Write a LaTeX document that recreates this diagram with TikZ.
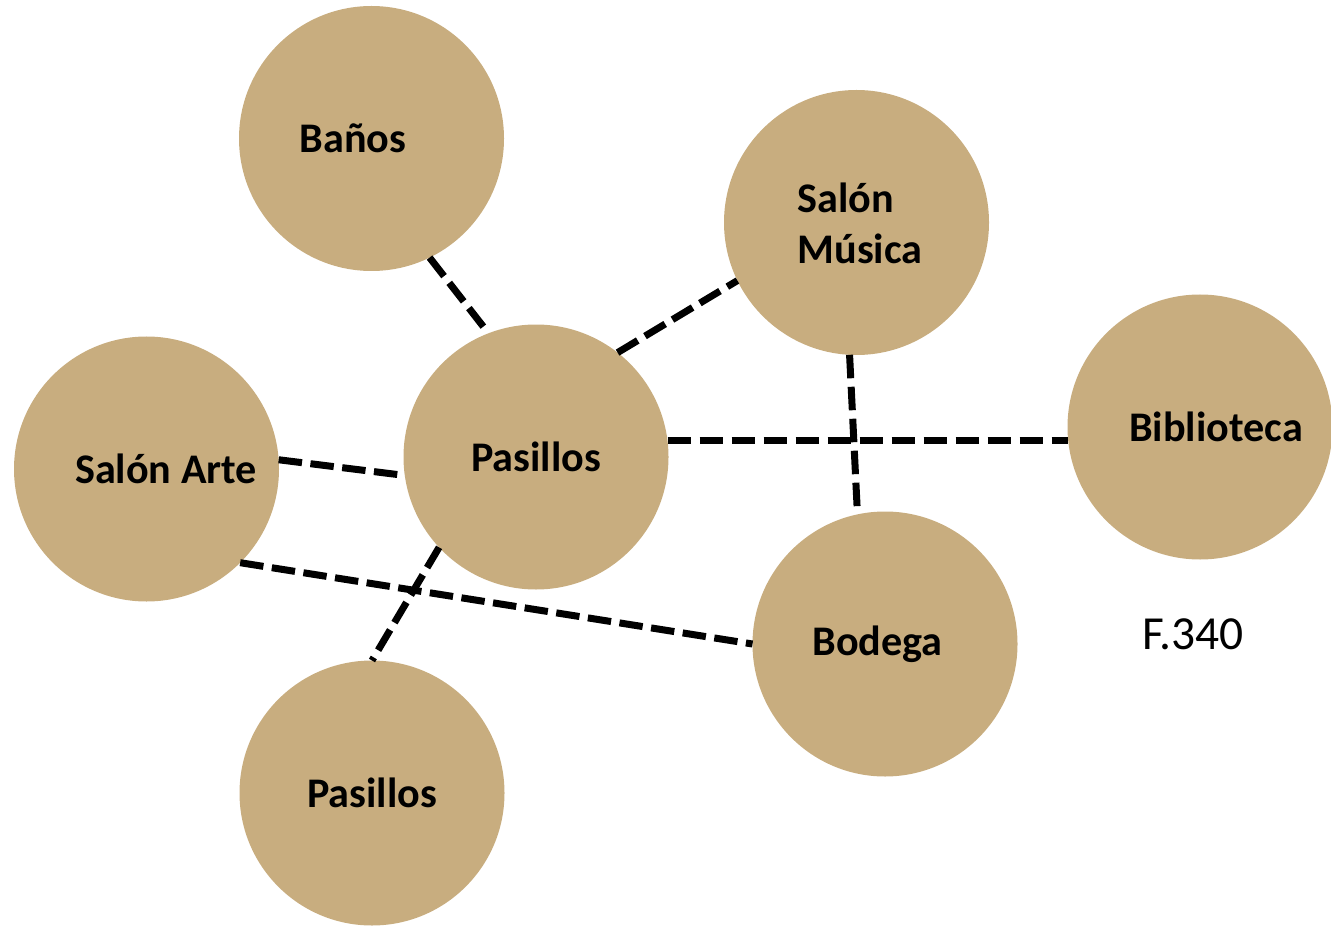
\documentclass[tikz,border=0pt]{standalone}
\usepackage{fontspec}
\setmainfont{Carlito}
\usepackage{tikz}
\usetikzlibrary{positioning, calc}
\definecolor{roomtan}{RGB}{200, 173, 127}
\tikzset{
    room/.style={circle, fill=roomtan, minimum size=2.65cm, inner sep=0pt, outer sep=0pt, font=\bfseries\fontsize{12}{14.4}\selectfont},
    link/.style={draw, black, line width=0.07cm, dash pattern=on 0.235cm off 0.085cm}
}
\begin{document}
\begin{tikzpicture}[
    roomlabel/.style={font=\bfseries\fontsize{12}{14.4}\selectfont, align=left}
]
    \useasboundingbox (0,0) rectangle (13.31,9.26);

    % --- ROOMS ---
    \node[room, label={[roomlabel, xshift=-0.185cm]center:Baños}] (banos) at (3.715, 7.875) {};
    \node[room, label={[roomlabel, xshift=0.035cm, yshift=-0.01cm]center:Salón\\Música}] (musica) at (8.565, 7.035) {};
    \node[room, label={[roomlabel, xshift=0.195cm]center:Salón Arte}] (arte) at (1.465, 4.57) {};
    \node[room] (pasillos) at (5.36, 4.69) {Pasillos};
    \node[room, label={[roomlabel, xshift=0.16cm]center:Biblioteca}] (biblioteca) at (12.00, 4.99) {};
    \node[room, label={[roomlabel, xshift=-0.075cm]center:Bodega}] (bodega) at (8.85, 2.82) {};
    \node[room] (pasillosb) at (3.72, 1.33) {Pasillos};

    % figure number
    \node[font=\fontsize{13.5}{16}\selectfont] (fig) at (11.93, 2.92) {F.340};

    % --- CONNECTIONS ---
    \draw[link] (banos.296) -- (pasillos.111.6);
    \draw[link] (pasillos.52) -- (musica.206);
    \draw[link] (pasillos.7.3) -- (pasillos.7.3 -| biblioteca.west);
    \draw[link] (musica.267.4) -- (bodega.102);
    \draw[link] (arte.4.8) -- (pasillos.188.7);
    \draw[link] (arte.315) -- (bodega.180);
    \draw[link] (pasillos.223.8) -- (pasillosb.90);

\end{tikzpicture}
\end{document}
